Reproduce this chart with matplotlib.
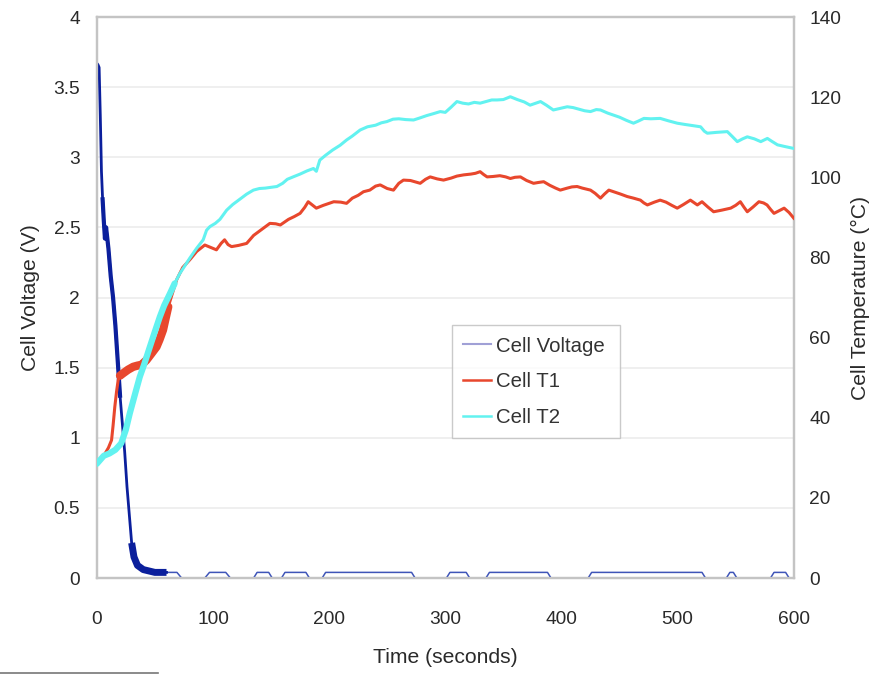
import matplotlib
matplotlib.use("Agg")
import matplotlib.pyplot as plt
from matplotlib.lines import Line2D
import numpy as np

plt.rcParams['font.family'] = ['Liberation Sans', 'DejaVu Sans']

# ---------------- data ----------------
volt_t = [0, 1, 2, 3, 4, 5, 6, 7, 8, 10, 12, 14, 16, 18, 20, 22, 24, 26, 28, 30,
          32, 35, 40, 45, 50, 55, 60]
volt_v = [3.67, 3.66, 3.64, 3.3, 2.9, 2.7, 2.55, 2.42, 2.5, 2.35, 2.15, 2.0, 1.8,
          1.55, 1.3, 1.1, 0.9, 0.65, 0.45, 0.25, 0.15, 0.09, 0.06, 0.05, 0.04, 0.04, 0.04]

volt_tail_t = [60, 69, 73, 93, 97, 111, 115, 135, 138, 148, 151, 159, 162, 180, 183,
               194, 197, 271, 274, 301, 304, 318, 321, 335, 338, 388, 391, 423, 426,
               521, 524, 542, 545, 548, 551, 580, 583, 593, 596, 600]
volt_tail_v = [0.04, 0.04, 0, 0, 0.04, 0.04, 0, 0, 0.04, 0.04, 0, 0, 0.04, 0.04, 0,
               0, 0.04, 0.04, 0, 0, 0.04, 0.04, 0, 0, 0.04, 0.04, 0, 0, 0.04,
               0.04, 0, 0, 0.04, 0.04, 0, 0, 0.04, 0.04, 0, 0]

t1_t = [0, 3, 7, 10, 12.7, 14, 15.5, 17, 18.4, 20, 22.7, 27, 31.3, 35, 38.5, 42.8, 47,
        51.4, 54, 57, 59, 61.5, 65, 68.7, 74, 80, 86, 93, 98, 103, 107, 110, 113, 116,
        122, 129, 135, 142, 149, 154, 158, 165, 170, 175, 179, 182, 186, 189, 195, 200,
        204, 210, 215, 220, 225, 229.6, 235, 240, 244, 250, 255.4, 260, 264, 270, 278.4,
        283, 287, 293, 298.5, 305, 310, 315.8, 322, 326, 330, 333, 336, 341, 347, 352,
        356, 360, 364.7, 370, 376, 380, 384.7, 390, 395, 399, 405, 409, 413.5, 418, 425,
        429, 433.6, 437, 440.8, 446, 451, 456.6, 462, 468, 471, 474, 480, 485, 490, 495,
        499.7, 505, 511, 514, 517, 521, 526, 531, 538, 545.7, 550, 554, 557, 560, 565,
        570, 574, 577, 580, 583, 587, 591.7, 596, 600]
t1_v = [29.0, 29.5, 31, 32.5, 34.4, 38, 42.7, 46.5, 49.4, 50.5, 51.1, 52, 52.7, 53, 53.2,
        54.4, 56, 57.7, 59.5, 61.9, 64.5, 67.7, 71, 74.4, 77.5, 79.4, 81.5, 83.1, 82.5,
        81.9, 83.5, 84.4, 83.2, 82.7, 83, 83.5, 85.5, 87, 88.5, 88.4, 88.1, 89.5, 90.2,
        91, 92.5, 93.9, 93, 92.3, 93, 93.5, 93.9, 93.8, 93.5, 94.8, 95.5, 96.4, 96.8,
        97.8, 98.1, 97.2, 96.8, 98.5, 99.3, 99.2, 98.5, 99.5, 100.1, 99.6, 99.3, 99.8,
        100.3, 100.6, 100.8, 101, 101.4, 100.7, 100.1, 100.2, 100.4, 100.1, 99.7, 100,
        100.1, 99.2, 98.5, 98.7, 98.9, 98, 97.3, 96.8, 97.3, 97.6, 97.7, 97.3, 96.8, 96,
        94.8, 95.8, 96.8, 96.3, 95.8, 95.2, 94.8, 94.3, 93.6, 93.1, 93.8, 94.3, 93.8, 93,
        92.3, 93.2, 94.3, 93.7, 93.1, 93.9, 92.6, 91.4, 91.8, 92.3, 93, 93.9, 92.6, 91.4,
        92.6, 93.9, 93.6, 93.1, 92, 91, 91.6, 92.3, 91.2, 89.8]

t2_t = [0, 3, 6, 11, 16, 21, 25, 28.4, 33, 37, 41, 45.7, 50, 54.3, 58, 63, 67, 71.5, 76,
        80, 86, 91.6, 94.5, 97.4, 102, 106, 111.8, 117, 123, 129, 134.8, 140, 145, 150,
        155, 160, 164, 169, 175, 181, 186.5, 189, 192, 197, 203, 209.5, 215, 220, 226.7,
        233, 240, 245, 249.7, 255, 260, 266, 272.7, 278, 284, 290, 295.7, 300, 305, 310,
        315, 320, 325, 330, 335, 340, 344.6, 350, 356, 362, 368, 373, 378, 382, 387, 393,
        399, 405, 410, 415, 420, 425, 430, 433.6, 440, 445, 450, 456, 462, 466, 471, 477,
        485, 492, 499.7, 506, 513, 519.8, 523, 525.6, 533, 542.8, 547, 551.4, 556, 560,
        566, 571.6, 577.3, 581, 586, 592, 600]
t2_v = [28.5, 29.5, 30.5, 31.1, 32, 33.6, 37, 41.1, 46, 50.2, 53.5, 57.7, 61.5, 65.2, 68,
        71, 73.5, 76, 78, 79.8, 82.3, 84.4, 86.8, 87.7, 88.5, 89.5, 91.8, 93.2, 94.5,
        95.8, 96.8, 97.2, 97.3, 97.5, 97.7, 98.5, 99.5, 100.1, 100.8, 101.6, 102.2, 101.5,
        104.3, 105.5, 106.8, 108, 109.3, 110.3, 111.8, 112.6, 113, 113.6, 113.9, 114.5,
        114.6, 114.4, 114.3, 114.8, 115.4, 115.9, 116.4, 116.2, 117.5, 118.9, 118.5,
        118.3, 118.7, 118.5, 118.9, 119.3, 119.3, 119.4, 120.1, 119.4, 118.8, 118, 118.5,
        118.9, 118, 116.8, 117.2, 117.6, 117.4, 117, 116.6, 116.4, 116.9, 116.8, 116,
        115.5, 115, 114.2, 113.5, 114, 114.7, 114.6, 114.7, 114.1, 113.5, 113.2, 112.9,
        112.6, 111.5, 111, 111.2, 111.4, 110.2, 108.9, 109.6, 110.1, 109.6, 108.9, 109.7,
        109, 108.1, 107.7, 107.2]

x_ticks = [0, 100, 200, 300, 400, 500, 600]
v_ticks = [0, 0.5, 1, 1.5, 2, 2.5, 3, 3.5, 4]
v_tick_labels = ['0', '0.5', '1', '1.5', '2', '2.5', '3', '3.5', '4']
temp_ticks = [0, 20, 40, 60, 80, 100, 120, 140]

# ---------------- styling ----------------
NAVY = '#0b1f9c'
NAVY_THIN = '#3f55b8'
LAV = '#a0a0d6'
RED = '#e8472d'
CYAN = '#62f2f0'
GRID = '#ececec'
FRAME = '#c4c4c4'
TXT = '#2a2a2a'

fig = plt.figure(figsize=(8.8, 6.75), dpi=100)
ax = fig.add_axes([0.110, 0.1437, 0.792, 0.8311])
ax2 = ax.twinx()

# voltage
ax.plot(volt_tail_t, volt_tail_v, color=NAVY_THIN, lw=1.1, zorder=3)
ax.plot(volt_t, volt_v, color=NAVY, lw=2.0, zorder=4)
vt = np.array(volt_t); vv = np.array(volt_v)
m = (vt >= 30)
ax.plot(vt[m], vv[m], color=NAVY, lw=5, solid_capstyle='butt', zorder=4)
m2 = (vt >= 5) & (vt <= 20)
ax.plot(vt[m2], vv[m2], color=NAVY, lw=3, zorder=4)

ax.set_xlim(0, 600)
ax.set_ylim(0, 4)
ax.set_xticks(x_ticks)
ax.set_yticks(v_ticks)
ax.set_yticklabels(v_tick_labels)
ax.yaxis.grid(True, color=GRID, lw=1.2)
ax.set_axisbelow(True)

# temperatures
t1a = np.array(t1_t); t1b = np.array(t1_v)
t2a = np.array(t2_t); t2b = np.array(t2_v)
ax2.plot(t1_t, t1_v, color=RED, lw=2.2, zorder=3)
mk = (t1a >= 19) & (t1a <= 62)
ax2.plot(t1a[mk], t1b[mk], color=RED, lw=6, solid_capstyle='round', zorder=3)
ax2.plot(t2_t, t2_v, color=CYAN, lw=2.2, zorder=4)
mk2 = (t2a <= 70)
ax2.plot(t2a[mk2], t2b[mk2], color=CYAN, lw=4.5, solid_capstyle='round', zorder=4)
ax2.set_ylim(0, 140)
ax2.set_yticks(temp_ticks)

# frame / ticks
for a in (ax, ax2):
    for s in a.spines.values():
        s.set_color(FRAME)
        s.set_linewidth(1.6)
ax.tick_params(axis='y', length=0, pad=12, labelsize=13.8, colors=TXT)
ax.tick_params(axis='x', length=0, pad=24, labelsize=13.8, colors=TXT)
ax2.tick_params(axis='y', length=0, pad=11, labelsize=13.8, colors=TXT)

ax.set_xlabel('Time (seconds)', fontsize=15.2, color=TXT, labelpad=14)
ax.set_ylabel('Cell Voltage (V)', fontsize=15.2, color=TXT, labelpad=10)
ax2.set_ylabel('Cell Temperature (°C)', fontsize=15.2, color=TXT, labelpad=7)

handles = [Line2D([], [], color=LAV, lw=1.5, label='Cell Voltage'),
           Line2D([], [], color=RED, lw=1.8, label='Cell T1'),
           Line2D([], [], color=CYAN, lw=1.8, label='Cell T2')]
leg = ax2.legend(handles=handles, loc='lower left', bbox_to_anchor=(0.509, 0.249, 0.241, 0.2),
                 mode='expand', fontsize=14.7, frameon=True, fancybox=False,
                 handlelength=1.4, handletextpad=0.25, labelspacing=0.82,
                 borderpad=0.55, borderaxespad=0)
leg.get_frame().set_edgecolor('#bdbdbd')
leg.get_frame().set_linewidth(1.0)
for txt in leg.get_texts():
    txt.set_color('#333333')

fig.add_artist(Line2D([0, 0.18], [0.003, 0.003], color='#777777', lw=1.2))

fig.savefig('out.png', dpi=100)
